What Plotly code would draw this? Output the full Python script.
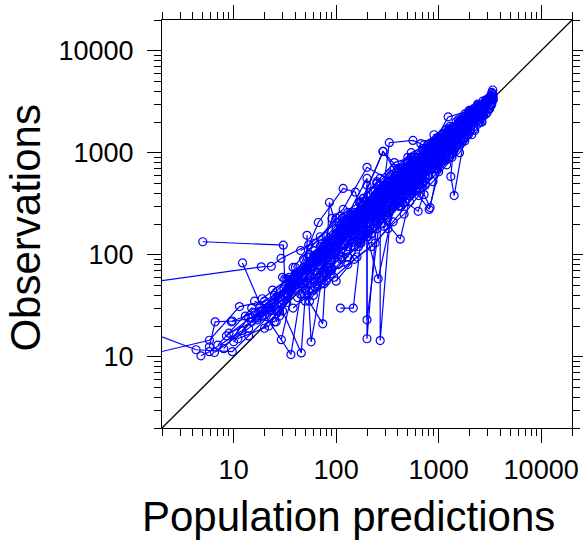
import math
import plotly.graph_objects as go

# ---- data: population predictions (x) and observations (y), one list per subject ----
pred_by_subject = [
    [5.0, 30.5, 31.5, 62, 140, 310, 620, 950, 1350, 980, 470],
    [1.2, 18.6, 23.3, 29, 54, 115, 240, 490, 830, 1260, 720, 310],
    [1.2, 4.3, 9.7, 14, 26, 56, 125, 265, 510, 860, 610, 285],
    [1.5, 5.8, 11.4, 20, 41, 92, 185, 390, 710, 1120, 1600, 1150],
    [5.8, 6.6, 9.7, 16, 31, 72, 155, 335, 660, 1010, 1520, 1090],
    [4.8, 5.8, 12, 22, 45, 101, 212, 425, 770, 1210, 1820, 1400],
    [12.2, 20, 36.2, 45, 82, 160, 305, 555, 905, 1420, 2100],
    [30, 45.7, 52, 57, 81, 172, 355, 625, 1010, 1430, 810],
    [29.2, 40, 74, 86, 112, 205, 405, 760, 1180, 1700, 2400],
    [110, 147, 200, 200, 269, 269, 352, 610, 980, 1480, 2050],
    [17, 34, 67, 117, 154, 257, 420, 700, 1238, 2050, 2900],
    [8.5, 18, 38, 85, 190, 420, 820, 1350, 1900, 2600, 3100, 2200, 1400],
    [25, 60, 140, 300, 560, 900, 1300, 1800, 2400, 3000, 3350, 2600],
    [45, 95, 200, 380, 640, 1000, 1500, 2100, 2800, 3300, 2500, 1700, 1100],
    [60, 130, 260, 480, 800, 1200, 1650, 2200, 2900, 3400],
    [35, 70, 150, 290, 520, 830, 1150, 1550, 1100, 720, 450, 280, 170],
    [90, 172, 288, 420, 650, 950, 1400, 1900, 2500, 3000],
    [15, 32, 68, 140, 280, 500, 808, 1200, 1700, 2300, 2900, 3373],
    [40, 88, 184, 350, 631, 1000, 1380, 1315, 1417, 1900, 2600],
    [22, 48, 100, 200, 200, 330, 561, 670, 900, 1300, 1900, 2700],
    [52, 52, 91, 117, 200, 380, 700, 722, 826, 1100, 1600],
    [10, 21, 43, 90, 180, 360, 650, 1000, 1450, 2000, 2650, 3200],
    [65, 120, 230, 422, 600, 880, 1250, 1750, 2300, 2900, 3300, 2800, 2000],
    [28, 55, 110, 184, 286, 450, 760, 1120, 1550, 2100, 2700],
    [19, 40, 78, 150, 300, 540, 880, 1300, 1850, 2500, 3150, 3400],
    [75, 160, 320, 580, 920, 1350, 1850, 2400, 1900, 1300, 850, 520],
    [38, 80, 170, 340, 600, 950, 1400, 1950, 2600, 3200],
    [110, 230, 440, 750, 1150, 1600, 2200, 2900, 3300],
    [13, 27, 55, 120, 250, 470, 800, 1250, 1800, 2400],
    [50, 105, 220, 410, 700, 1050, 1500, 2050, 2700, 3250],
    [34, 70, 140, 270, 500, 840, 1250, 1750, 2350, 1800, 1200, 760, 430, 240],
    [24, 50, 100, 210, 400, 700, 1100, 1600, 2200, 2800],
    [85, 175, 350, 620, 980, 1450, 2000, 2650, 3100],
    [15, 33, 66, 130, 260, 470, 780, 1150, 1650, 2250],
    [42, 85, 165, 310, 560, 920, 1380, 1950, 2550, 3150],
    [18, 36, 72, 150, 300, 520, 850, 600, 380, 230, 130, 75],
    [130, 250, 470, 780, 1200, 1700, 2300, 2900, 3300, 2700],
    [55, 115, 240, 430, 720, 1080, 1550, 2150, 2750, 3200],
    [9, 17, 33, 64, 130, 260, 480, 820, 1250, 1800, 2500],
    [70, 140, 270, 490, 820, 1250, 1750, 2350, 2950, 3350],
    [26, 53, 108, 225, 430, 760, 1200, 900, 600, 380, 230, 140, 85],
    [95, 190, 370, 660, 1030, 1500, 2050, 2650, 3100],
    [32, 64, 126, 240, 450, 760, 1150, 1600, 2150, 2700],
    [160, 300, 540, 860, 1280, 1780, 2350, 2950],
    [6.5, 14, 30, 62, 120, 240, 460, 780, 1200, 1700],
    [45, 80, 130, 210, 330, 480, 650, 900, 1200, 900, 620, 400, 250, 150],
    [60, 95, 160, 240, 360, 520, 740, 1000, 1350, 1800],
    [70, 110, 170, 250, 370, 540, 780, 1100, 780, 540, 370, 250, 170],
    [100, 150, 220, 320, 460, 640, 880, 1200, 1600, 2100],
    [38, 62, 100, 155, 230, 340, 500, 720, 1000, 720, 500, 340, 230, 155],
    [120, 180, 260, 370, 520, 720, 980, 1300, 1700, 2200],
    [55, 85, 130, 195, 290, 420, 600, 850, 1150, 1550],
    [80, 125, 190, 280, 400, 560, 770, 1050, 1400, 1850, 2400],
    [150, 220, 310, 430, 590, 800, 1080, 1450, 1900, 2450, 3000],
    [48, 75, 115, 175, 260, 380, 550, 780, 1100],
    [190, 270, 380, 520, 700, 940, 1250, 1650, 2150, 2750],
    [65, 100, 150, 225, 330, 480, 690, 980, 1350],
    [230, 330, 460, 630, 850, 1130, 1500, 1950, 2500],
    [90, 135, 200, 290, 410, 580, 800, 1100, 1500, 2000, 2600],
    [35, 55, 85, 130, 195, 290, 420, 610, 870, 1230],
    [280, 390, 540, 730, 980, 1300, 1700, 2200, 2800, 3300],
    [130, 190, 270, 380, 530, 730, 1000, 1350, 1800],
    [25, 40, 62, 95, 145, 220, 330, 490, 720, 1050],
    [170, 250, 360, 510, 710, 970, 1300, 1750, 2300, 2900, 3400],
    [75, 115, 170, 250, 360, 510, 720, 1000, 1380, 1880],
    [7, 15, 28, 50, 90, 160, 280, 480, 800, 1300],
    [11, 22, 40, 70, 120, 200, 330, 540, 860, 1350, 2000],
    [20, 35, 60, 100, 165, 270, 430, 680, 1050, 1600],
    [9.5, 19, 35, 62, 105, 175, 290, 470, 750, 1150, 1700, 2400],
    [30, 50, 80, 130, 200, 310, 470, 700, 1000, 1450, 2000, 2700],
    [400, 550, 740, 980, 1280, 1650, 2100, 2650, 3200],
    [320, 450, 620, 840, 1120, 1480, 1950, 2500, 3100],
    [600, 800, 1050, 1380, 1800, 2300, 2900, 3400],
    [500, 680, 900, 1180, 1550, 2000, 2550, 3150],
    [16, 28, 48, 80, 130, 210, 340, 540, 850],
    [8, 14, 25, 44, 76, 130, 220, 370, 610, 1000],
    [250, 360, 500, 690, 940, 1260, 1680, 2200, 2850],
    [42, 70, 112, 178, 280, 430, 650, 960, 1400, 2000],
    [180, 260, 370, 510, 700, 950, 1280, 1700, 2250],
    [23, 40, 66, 108, 172, 270, 420, 640, 970],
    [700, 920, 1200, 1550, 1980, 2500, 3100],
    [140, 210, 300, 420, 580, 790, 1070, 1430, 1900, 2500],
    [55, 88, 135, 205, 305, 450, 650, 930, 1320],
]

obs_by_subject = [
    [134, 124, 58, 88, 205, 470, 800, 1150, 1480, 920, 540],
    [52, 76, 77, 92, 125, 228, 370, 690, 1060, 1390, 830, 380],
    [19, 11.7, 11.2, 16, 29, 62, 148, 330, 600, 960, 690, 330],
    [10.5, 14.5, 31, 35, 56, 118, 262, 510, 880, 1290, 1850, 1300],
    [12.5, 22, 22.4, 27, 46, 97, 205, 410, 730, 1060, 1790, 1210],
    [10.2, 11.2, 18, 31, 52, 132, 298, 560, 990, 1340, 2010, 1520],
    [83, 26, 10.5, 41, 92, 196, 395, 650, 970, 1580, 2300],
    [28, 10.9, 72, 14, 108, 184, 415, 790, 1120, 1510, 895],
    [14.7, 58, 21, 325, 128, 235, 455, 810, 1260, 1650, 2500],
    [30, 30, 480, 15, 560, 14.4, 402, 655, 1020, 1560, 2200],
    [24, 40, 207, 446, 410, 58, 560, 800, 2244, 2600, 3200],
    [16, 28, 52, 110, 240, 520, 950, 1500, 2100, 2900, 3400, 2350, 1250],
    [33, 85, 175, 260, 620, 1050, 1420, 1950, 2650, 3250, 3600, 2800],
    [70, 140, 318, 350, 720, 1150, 1700, 2350, 3100, 3500, 2700, 1850, 1200],
    [95, 200, 300, 470, 900, 1300, 1750, 2450, 3050, 3700],
    [52, 121, 250, 340, 650, 780, 1300, 1650, 1250, 850, 420, 350, 200],
    [140, 318, 1030, 560, 710, 1080, 1600, 2100, 2750, 3300],
    [24, 42, 80, 190, 320, 520, 278, 1320, 1850, 2500, 3100, 4120],
    [45, 110, 356, 420, 266, 1120, 1000, 583, 380, 2050, 2800],
    [30, 62, 150, 560, 23, 1253, 1318, 1225, 950, 1400, 2000, 2900],
    [155, 40, 227, 278, 719, 500, 900, 389, 290, 1250, 1700],
    [14, 33, 60, 100, 210, 330, 590, 920, 1300, 1900, 2400, 3000],
    [90, 170, 290, 142, 640, 960, 1380, 1900, 2400, 3150, 3300, 2650, 2100],
    [38, 60, 170, 356, 1030, 620, 820, 1000, 1500, 2200, 2600],
    [37, 65, 120, 210, 430, 700, 1100, 1550, 2200, 2800, 3450, 3500],
    [60, 150, 280, 500, 800, 1200, 1600, 2100, 1700, 1150, 700, 430],
    [30, 55, 135, 280, 480, 820, 1250, 1750, 2350, 2950],
    [180, 350, 640, 1050, 1500, 2000, 2700, 3300, 3900],
    [25, 38, 95, 220, 380, 720, 1200, 1700, 2400, 3000],
    [35, 80, 160, 300, 560, 850, 1250, 1700, 2300, 2900],
    [48, 95, 230, 400, 600, 1000, 1150, 1900, 2500, 1950, 1100, 900, 560, 310],
    [45, 75, 180, 260, 540, 800, 1350, 1900, 2600, 3100],
    [75, 200, 280, 720, 1150, 1350, 2200, 2500, 3250],
    [22, 58, 90, 120, 350, 600, 700, 1400, 1550, 2400],
    [65, 100, 240, 500, 450, 1300, 1200, 2300, 2350, 3350],
    [30, 48, 110, 160, 400, 620, 750, 700, 500, 280, 190, 90],
    [160, 330, 520, 950, 1100, 1900, 2150, 3000, 3450, 2900],
    [100, 180, 420, 650, 1000, 1350, 1850, 2550, 3000, 3600],
    [17, 23, 34, 85, 180, 290, 520, 1000, 1150, 2100, 2700],
    [110, 230, 400, 640, 1150, 1550, 2150, 2700, 3300, 3800],
    [22, 85, 140, 350, 700, 1000, 1450, 1150, 800, 520, 330, 200, 120],
    [120, 260, 560, 800, 1450, 1800, 2500, 2900, 3450],
    [50, 95, 160, 370, 640, 1050, 1500, 2050, 2600, 3200],
    [240, 410, 780, 1150, 1700, 2150, 2800, 3300],
    [11, 19, 36, 55, 200, 310, 600, 950, 1450, 1950],
    [110, 150, 260, 300, 620, 700, 520, 1500, 1300, 700, 900, 600, 180, 260],
    [40, 60, 95, 130, 210, 330, 480, 650, 900, 1300],
    [150, 240, 330, 520, 800, 900, 1100, 1550, 1200, 1000, 700, 500, 330],
    [55, 90, 120, 180, 250, 380, 520, 760, 1000, 1500],
    [75, 130, 230, 190, 420, 600, 900, 1200, 1250, 900, 780, 520, 410, 250],
    [190, 300, 210, 560, 380, 1000, 700, 1600, 1300, 2600],
    [35, 70, 80, 160, 190, 330, 420, 700, 900, 1250],
    [130, 110, 330, 250, 650, 480, 1100, 900, 1800, 1600, 2900],
    [120, 300, 260, 600, 500, 1050, 850, 1750, 1500, 2700, 2500],
    [90, 65, 190, 140, 400, 300, 800, 600, 1500],
    [330, 250, 600, 420, 1050, 760, 1600, 1350, 2500, 2300],
    [50, 160, 120, 330, 260, 700, 520, 1300, 1100],
    [180, 450, 380, 800, 680, 1400, 1200, 2300, 2100],
    [70, 200, 160, 420, 300, 800, 600, 1400, 1200, 2400, 2000],
    [45, 95, 110, 220, 250, 480, 500, 900, 950, 1600],
    [420, 330, 780, 600, 1300, 1050, 2100, 1800, 3100, 3000],
    [95, 260, 220, 520, 400, 1000, 800, 1700, 1500],
    [40, 50, 110, 120, 230, 260, 520, 560, 1000, 1200],
    [260, 200, 500, 420, 950, 800, 1650, 1400, 2600, 2600, 3300],
    [120, 95, 260, 200, 560, 420, 1000, 800, 1700, 1500],
    [13, 30, 25, 70, 75, 240, 230, 650, 700, 1700],
    [15, 20, 55, 60, 170, 150, 450, 400, 1200, 1000, 2500],
    [19, 60, 45, 160, 120, 420, 300, 900, 800, 2000],
    [22, 25, 50, 48, 150, 130, 400, 330, 1000, 850, 2100, 1900],
    [60, 45, 130, 95, 300, 220, 650, 500, 1400, 1100, 2500, 2300],
    [700, 420, 1100, 750, 1800, 1300, 2600, 2000, 3000],
    [230, 700, 480, 1250, 850, 2000, 1500, 2900, 2700],
    [450, 1100, 850, 1800, 1400, 2700, 2400, 3300],
    [820, 550, 1300, 900, 2100, 1600, 2900, 2700],
    [35, 28, 75, 65, 210, 170, 520, 420, 1150],
    [12, 24, 22, 55, 52, 190, 160, 500, 450, 1350],
    [500, 300, 800, 520, 1300, 950, 2200, 1700, 3000],
    [38, 120, 90, 280, 200, 650, 450, 1400, 1050, 2400],
    [150, 420, 300, 750, 520, 1300, 900, 2100, 1650],
    [28, 75, 55, 170, 130, 400, 300, 900, 700],
    [1100, 700, 1700, 1200, 2600, 2000, 3400],
    [250, 170, 480, 330, 900, 600, 1500, 1100, 2400, 2000],
    [100, 65, 220, 150, 480, 320, 950, 700, 1650],
]

axis_limits = [2, 20000]
major_ticks = [10, 100, 1000, 10000]
major_labels = ["10", "100", "1000", "10000"]
x_title = "Population predictions"
y_title = "Observations"

# ---- build figure ----
xs, ys = [], []
for p_list, o_list in zip(pred_by_subject, obs_by_subject):
    for p, o in zip(p_list, o_list):
        xs.append(p)
        ys.append(o)
    xs.append(None)
    ys.append(None)

BLUE = "#0000FF"
fig = go.Figure()
# identity line (under the data)
fig.add_trace(go.Scatter(
    x=axis_limits, y=axis_limits, mode="lines",
    line=dict(color="black", width=1.3), showlegend=False, hoverinfo="skip",
))
fig.add_trace(go.Scatter(
    x=xs, y=ys, mode="lines+markers",
    line=dict(color=BLUE, width=1.2),
    marker=dict(symbol="circle-open", size=8, color=BLUE, line=dict(width=1.2, color=BLUE)),
    connectgaps=False, showlegend=False, hoverinfo="x+y",
))

minor_ticks = []
for e in range(0, 5):
    for m in range(1, 10):
        v = m * 10 ** e
        if axis_limits[0] <= v <= axis_limits[1] and v not in major_ticks:
            minor_ticks.append(v)
minor_ticks.append(axis_limits[1])

FONT = "Liberation Sans, Arial, Helvetica, sans-serif"
log_range = [math.log10(axis_limits[0]), math.log10(axis_limits[1])]

axis_common = dict(
    type="log", range=log_range, automargin=False,
    tickmode="array", tickvals=major_ticks, ticktext=major_labels,
    ticks="outside", ticklen=14, tickwidth=1, tickcolor="black",
    showline=True, linecolor="black", linewidth=1, mirror="allticks",
    showgrid=False, zeroline=False,
    tickfont=dict(family=FONT, size=27, color="black"),
    minor=dict(tickmode="array", tickvals=minor_ticks, ticks="outside",
               ticklen=7, tickwidth=1, tickcolor="black", showgrid=False),
)

fig.update_layout(
    width=583, height=543,
    margin=dict(l=162, r=11, t=20, b=115),
    paper_bgcolor="white", plot_bgcolor="white",
    xaxis=dict(axis_common, ticklabelstandoff=4),
    yaxis=dict(axis_common, ticklabelstandoff=8),
    font=dict(family=FONT, color="black"),
    annotations=[
        dict(text=x_title, xref="paper", yref="paper", x=0.4537, y=-0.218,
             xanchor="center", yanchor="middle", showarrow=False,
             font=dict(family=FONT, size=42, color="black")),
        dict(text=y_title, xref="paper", yref="paper", x=-0.333, y=0.49,
             xanchor="center", yanchor="middle", textangle=-90, showarrow=False,
             font=dict(family=FONT, size=42, color="black")),
    ],
)

fig.write_html("out.html")
